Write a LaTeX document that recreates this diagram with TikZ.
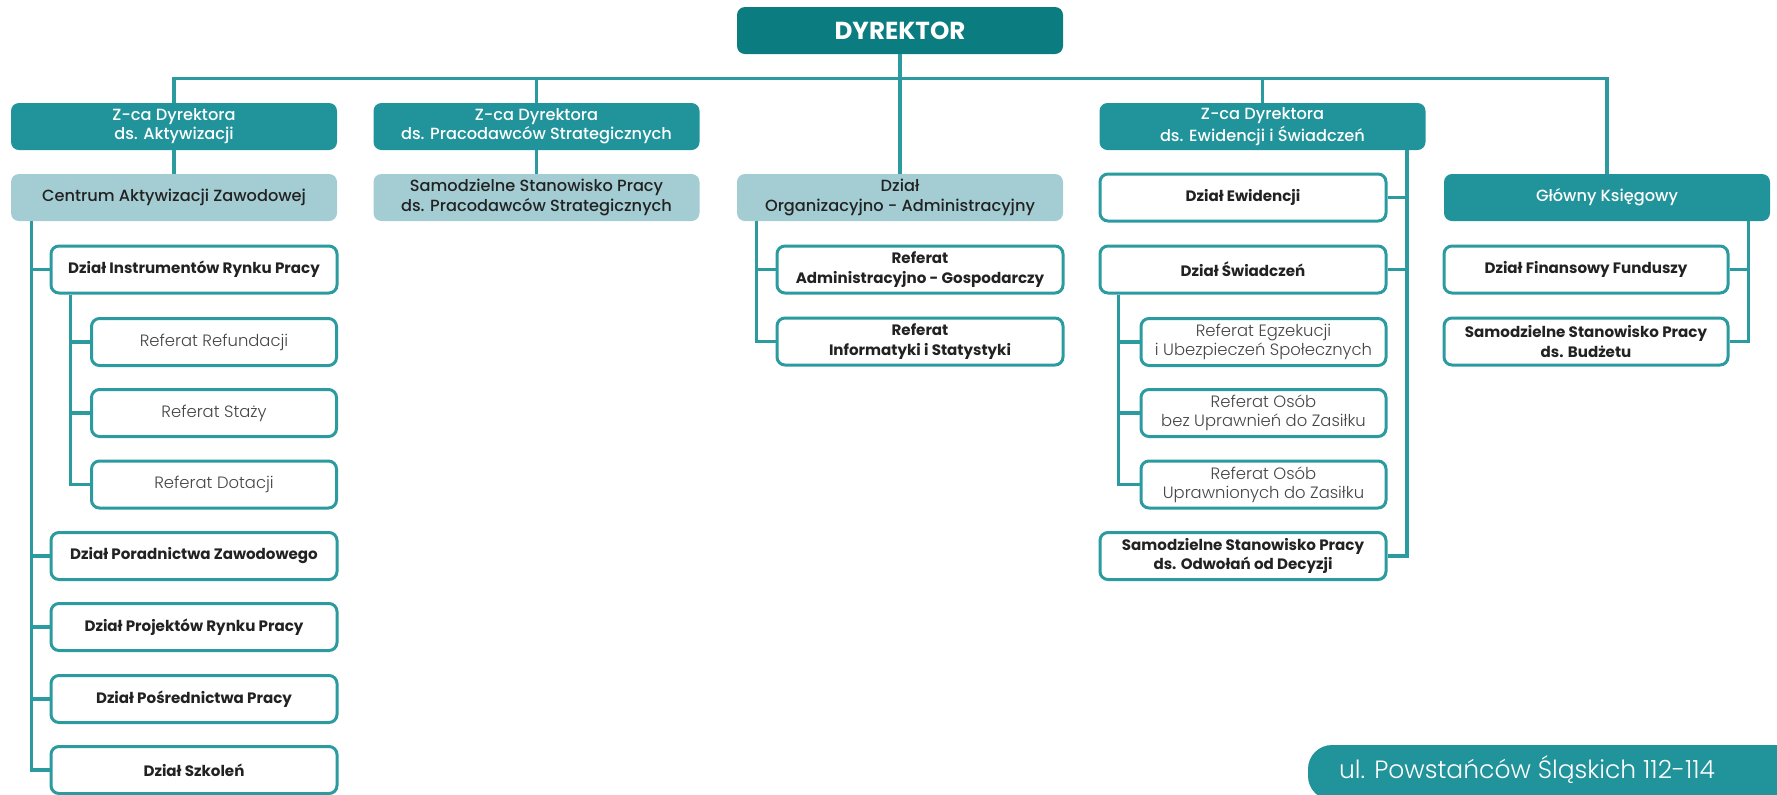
\documentclass[tikz,border=0pt]{standalone}
\usepackage{fontspec}
\setmainfont{Poppins}
\newfontfamily\popmedium{Poppins Medium}
\newfontfamily\poplight{Poppins Light}
\usetikzlibrary{positioning}
\definecolor{tealdark}{HTML}{0B7C80}
\definecolor{tealmid}{HTML}{21939A}
\definecolor{tealpale}{HTML}{A3CDD3}
\definecolor{tealline}{HTML}{2B9BA0}
\definecolor{textdark}{HTML}{222222}
\definecolor{textgrey}{HTML}{454545}
\tikzset{
  unit/.style={rounded corners=4pt, minimum height=23.5pt, inner sep=0pt, align=center,
    font=\popmedium\fontsize{8.1}{9.6}\selectfont},
  dirbox/.style={unit, fill=tealdark, text=white, minimum width=163pt,
    font=\fontsize{12.3}{13}\selectfont\bfseries},
  deputybox/.style={unit, fill=tealmid, text=white, minimum width=163pt},
  palebox/.style={unit, fill=tealpale, text=textdark, minimum width=163pt},
  deptbox/.style={unit, draw=tealline, line width=1.5pt, fill=white, text=textdark,
    minimum width=143pt, font=\fontsize{7.55}{9.6}\selectfont\bfseries},
  refbox/.style={unit, draw=tealline, line width=1.5pt, fill=white, text=textgrey,
    minimum width=122.5pt, font=\poplight\fontsize{8.2}{9.6}\selectfont},
  link/.style={draw=tealline, line width=1.6pt},
}
\begin{document}
\begin{tikzpicture}[x=0.5pt, y=-0.5pt]
    \useasboundingbox (0,0) rectangle (1777,794);

    \node[dirbox] (dyr) at (900,30.5) {DYREKTOR};
    \node[deputybox] (zcaA) at (174,126.5) {Z-ca Dyrektora\\ds. Aktywizacji};
    \node[deputybox] (zcaP) at (536.5,126.5) {Z-ca Dyrektora\\ds. Pracodawców Strategicznych};
    \node[deputybox] (zcaE) at (1262.5,126.5) {Z-ca Dyrektora\\ds. Ewidencji i Świadczeń};

    \node[palebox] (cent) at (174,197.5) {Centrum Aktywizacji Zawodowej};
    \node[palebox] (ssP) at (536.5,197.5) {Samodzielne Stanowisko Pracy\\ds. Pracodawców Strategicznych};
    \node[palebox] (org) at (900,197.5) {Dział\\Organizacyjno - Administracyjny};
    \node[deptbox] (ewi) at (1243,197.5) {Dział Ewidencji};
    \node[deputybox] (glow) at (1607,197.5) {Główny Księgowy};

    \node[deptbox] (instr) at (194,269.5) {Dział Instrumentów Rynku Pracy};
    \node[refbox] (refund) at (214,342) {Referat Refundacji};
    \node[refbox] (staz) at (214,413) {Referat Staży};
    \node[refbox] (dot) at (214,484.5) {Referat Dotacji};
    \node[deptbox] (porad) at (194,556) {Dział Poradnictwa Zawodowego};
    \node[deptbox] (proj) at (194,627) {Dział Projektów Rynku Pracy};
    \node[deptbox] (posr) at (194,699) {Dział Pośrednictwa Pracy};
    \node[deptbox] (szkol) at (194,770) {Dział Szkoleń};

    \node[deptbox] (refAdm) at (920,269.5) {Referat\\Administracyjno - Gospodarczy};
    \node[deptbox] (refInf) at (920,341.5) {Referat\\Informatyki i Statystyki};

    \node[deptbox] (swiad) at (1243,269.5) {Dział Świadczeń};
    \node[refbox] (egz) at (1263.5,342) {Referat Egzekucji\\i Ubezpieczeń Społecznych};
    \node[refbox] (bez) at (1263.5,413) {Referat Osób\\bez Uprawnień do Zasiłku};
    \node[refbox] (upr) at (1263.5,484.5) {Referat Osób\\Uprawnionych do Zasiłku};
    \node[deptbox] (odw) at (1243,556) {Samodzielne Stanowisko Pracy\\ds. Odwołań od Decyzji};

    \node[deptbox, minimum width=142pt] (fin) at (1586,269.5) {Dział Finansowy Funduszy};
    \node[deptbox, minimum width=142pt] (budz) at (1586,341.5) {Samodzielne Stanowisko Pracy\\ds. Budżetu};

    \draw[link] (dyr.south) -- (org.north);
    \draw[link] (zcaA.north) -- ++(0,-24) -| (glow.north);
    \foreach \n in {zcaP, zcaE}
        \draw[link] (\n.north) -- ++(0,-24);
    \draw[link] (zcaA.south) -- (cent.north);
    \draw[link] (zcaP.south) -- (ssP.north);

    \draw[link] ([xshift=10.5pt]cent.south west) |- (szkol.west);
    \foreach \n in {instr, porad, proj, posr}
        \draw[link] (\n.west) -- ++(-19,0);
    \draw[link] ([xshift=10.5pt]instr.south west) |- (dot.west);
    \foreach \n in {refund, staz}
        \draw[link] (\n.west) -- ++(-19,0);

    \draw[link] ([xshift=10pt]org.south west) |- (refInf.west);
    \draw[link] (refAdm.west) -- ++(-20,0);

    \draw[link] ([xshift=-9.5pt]zcaE.south east) |- (odw.east);
    \foreach \n in {ewi, swiad}
        \draw[link] (\n.east) -- ++(20,0);
    \draw[link] ([xshift=10pt]swiad.south west) |- (upr.west);
    \foreach \n in {egz, bez}
        \draw[link] (\n.west) -- ++(-21,0);

    \draw[link] ([xshift=-11pt]glow.south east) |- (budz.east);
    \draw[link] (fin.east) -- ++(20,0);

    \fill[tealmid] (1308,800) [rounded corners=12pt] -- (1308,745) -- (1800,745) -- (1800,800) -- cycle;
    \node[anchor=west, text=white, font=\poplight\fontsize{12.5}{14}\selectfont] (addr) at (1332,770) {ul. Powstańców Śląskich 112-114};
\end{tikzpicture}
\end{document}
